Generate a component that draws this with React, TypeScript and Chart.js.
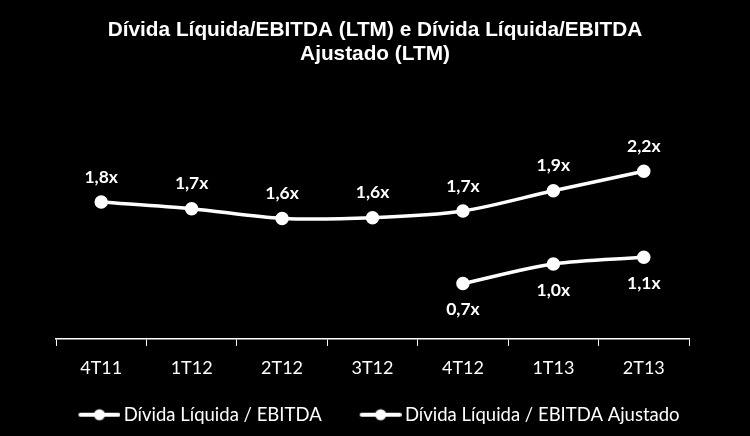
import React, { useEffect, useRef } from "react";
import { Chart, registerables } from "chart.js";

Chart.register(...registerables);

const TITLE_LINES = [
  "Dívida Líquida/EBITDA (LTM) e Dívida Líquida/EBITDA",
  "Ajustado (LTM)",
];
const CATEGORIES = ["4T11", "1T12", "2T12", "3T12", "4T12", "1T13", "2T13"];
const SERIES_NAMES = ["Dívida Líquida / EBITDA", "Dívida Líquida / EBITDA Ajustado"];
const DIVIDA_EBITDA = [1.79, 1.7, 1.57, 1.58, 1.67, 1.94, 2.2];
const DIVIDA_EBITDA_AJUSTADO = [null, null, null, null, 0.7, 0.96, 1.05];

const fmt = (v: number) => v.toFixed(1).replace(".", ",") + "x";

const ICON_BOX = 58;

function makeLegendIcon(): HTMLCanvasElement {
  const c = document.createElement("canvas");
  const W = ICON_BOX + 12;
  c.width = W;
  c.height = 14;
  const ctx = c.getContext("2d")!;
  ctx.strokeStyle = "#ffffff";
  ctx.lineWidth = 4;
  ctx.lineCap = "round";
  ctx.beginPath();
  ctx.moveTo(W - 40, 7);
  ctx.lineTo(W - 2, 7);
  ctx.stroke();
  ctx.fillStyle = "#ffffff";
  ctx.beginPath();
  ctx.arc(W - 21, 7, 5.5, 0, Math.PI * 2);
  ctx.fill();
  return c;
}

const valueLabels = {
  id: "valueLabels",
  afterDatasetsDraw(chart: any) {
    const ctx = chart.ctx;
    ctx.save();
    ctx.fillStyle = "#ffffff";
    ctx.font = "bold 17.5px Lato";
    ctx.textAlign = "center";
    ctx.textBaseline = "middle";
    chart.data.datasets.forEach((ds: any, di: number) => {
      const meta = chart.getDatasetMeta(di);
      meta.data.forEach((pt: any, i: number) => {
        const v = ds.data[i];
        if (v === null || v === undefined) return;
        const dy = di === 0 ? -25 : 26;
        ctx.fillText(fmt(v), pt.x, pt.y + dy);
      });
    });
    ctx.restore();
  },
};

const legendShift = {
  id: "legendShift",
  afterLayout(chart: any) {
    if (chart.legend) {
      chart.legend.left -= 7;
      chart.legend.right -= 7;
    }
  },
};

const spacerAxis = (w: number, position: "left" | "right") => ({
  position,
  display: true,
  grid: { display: false, drawTicks: false },
  border: { display: false },
  ticks: { display: false },
  afterFit: (s: any) => {
    s.width = w;
  },
});

export default function App() {
  const ref = useRef<HTMLCanvasElement>(null);
  useEffect(() => {
    const icon = makeLegendIcon();
    const common = {
      borderColor: "#ffffff",
      backgroundColor: "#ffffff",
      pointBackgroundColor: "#ffffff",
      pointBorderColor: "#ffffff",
      borderWidth: 3.5,
      pointRadius: 5,
      tension: 0.3,
      fill: false,
      yAxisID: "y",
    };
    const chart = new Chart(ref.current!, {
      type: "line",
      data: {
        labels: CATEGORIES,
        datasets: [
          { ...common, label: SERIES_NAMES[0], data: DIVIDA_EBITDA },
          { ...common, label: SERIES_NAMES[1], data: DIVIDA_EBITDA_AJUSTADO as any },
        ],
      },
      options: {
        animation: false,
        responsive: false,
        layout: { padding: { left: 0, right: 0, top: 0, bottom: 2 } },
        plugins: {
          title: {
            display: true,
            text: TITLE_LINES,
            color: "#ffffff",
            font: { family: "'Liberation Sans', Arial, sans-serif", size: 20.8, weight: "bold", lineHeight: 1.154 },
            padding: { top: 18, bottom: 5 },
          },
          legend: {
            position: "bottom",
            labels: {
              color: "#ffffff",
              font: { family: "Lato", size: 18.5 },
              usePointStyle: true,
              pointStyleWidth: ICON_BOX,
              padding: 16,
              generateLabels: (ch: any) => {
                const items = Chart.defaults.plugins.legend.labels.generateLabels(ch);
                return items.map((it: any) => ({ ...it, pointStyle: icon, fontColor: "#ffffff" }));
              },
            },
          },
          tooltip: { enabled: false },
        },
        scales: {
          x: {
            offset: true,
            grid: {
              offset: true,
              drawOnChartArea: false,
              drawTicks: true,
              tickLength: 7,
              color: "#ffffff",
            },
            border: { display: true, color: "#ffffff", width: 1.5 },
            ticks: { color: "#ffffff", font: { family: "Lato", size: 18 }, padding: 11 },
          },
          y: {
            ...spacerAxis(56, "left"),
            min: -0.04,
            max: 3.54,
          },
          yRight: {
            ...spacerAxis(61, "right"),
            min: 0,
            max: 1,
          },
        },
      },
      plugins: [valueLabels, legendShift],
    });
    return () => chart.destroy();
  }, []);
  return (
    <div style={{ position: "absolute", left: 0, top: 0, width: 750, height: 436, background: "#000" }}>
      <canvas ref={ref} width={750} height={436} />
    </div>
  );
}
